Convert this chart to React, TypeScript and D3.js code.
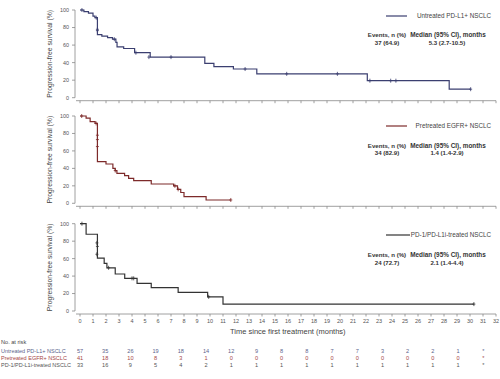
import React from "react";
import * as d3 from "d3";

// ---------- DATA ----------
const seriesNames = ["Untreated PD-L1+ NSCLC", "Pretreated EGFR+ NSCLC", "PD-1/PD-L1i-treated NSCLC"];
const eventsText = ["37 (64.9)", "34 (82.9)", "24 (72.7)"];
const medianText = ["5.3 (2.7-10.5)", "1.4 (1.4-2.9)", "2.1 (1.4-4.4)"];

// step points: [time (months), survival % after the step]
const untreatedSteps: [number, number][] = [
  [0, 100], [0.3, 98.2], [0.65, 96.5], [1.0, 93], [1.15, 91.2], [1.34, 72],
  [1.68, 70.2], [2.12, 68.4], [2.5, 66.7], [2.76, 63], [2.85, 57.9], [3.36, 56.1],
  [4.2, 51.3], [5.4, 46.3], [9.6, 39.2], [10.3, 35.4], [11.8, 32.7], [13.6, 27.2],
  [22.1, 19.4], [28.4, 9.7], [30.05, 9.7],
];
const untreatedCensor: [number, number][] = [
  [0.15, 100], [1.25, 91.2], [1.34, 78], [1.34, 76.5], [2.64, 66.7], [4.3, 51.3],
  [5.3, 46.3], [7.0, 46.3], [12.7, 32.7], [15.9, 27.2], [19.8, 27.2], [22.3, 19.4],
  [23.9, 19.4], [24.3, 19.4], [30.05, 9.7],
];

const pretreatedSteps: [number, number][] = [
  [0, 100], [0.47, 97.6], [0.78, 93.5], [1.16, 91.5], [1.34, 47.7], [2.0, 45],
  [2.53, 40], [2.71, 37.5], [2.84, 34.3], [3.43, 31.6], [3.74, 28.6], [4.13, 25.9],
  [5.48, 22.1], [7.2, 20], [7.5, 16], [7.75, 12.4], [8.0, 7.6], [9.7, 3.8], [11.6, 3.8],
];
const pretreatedCensor: [number, number][] = [
  [0.13, 100], [1.24, 91.5], [1.34, 78], [1.34, 73], [1.34, 65], [2.71, 37.5],
  [7.3, 20], [7.55, 16], [11.6, 3.8],
];

const pd1Steps: [number, number][] = [
  [0, 100], [0.47, 87.9], [1.34, 60.6], [1.86, 54.5], [2.07, 49.5], [2.71, 42.4],
  [3.44, 37.4], [4.39, 31.7], [5.48, 26.7], [7.55, 21.4], [9.82, 16.2], [11.0, 7.9],
  [30.3, 7.9],
];
const pd1Censor: [number, number][] = [
  [0.15, 100], [1.3, 78], [1.34, 74], [1.3, 65], [2.2, 49.5], [4.0, 37.4],
  [4.13, 37.4], [9.9, 16.2], [30.3, 7.9],
];

const yTicks = [0, 20, 40, 60, 80, 100];
const xTicks = d3.range(0, 33);
const riskLabels = ["Untreated PD-L1+ NSCLC", "Pretreated EGFR+ NSCLC", "PD-1/PD-L1i-treated NSCLC"];
const riskUntreated = ["57", "35", "26", "19", "18", "14", "12", "9", "8", "8", "7", "7", "3", "2", "2", "1", "*"];
const riskPretreated = ["41", "18", "10", "8", "3", "1", "0", "0", "0", "0", "0", "0", "0", "0", "0", "0", "*"];
const riskPd1 = ["33", "16", "9", "5", "4", "2", "1", "1", "1", "1", "1", "1", "1", "1", "1", "1", "*"];

// ---------- STYLE ----------
const colors = ["#3b3f70", "#7d2a2a", "#333333"];
const riskColors = ["#5b5f8c", "#a54646", "#555555"];
const FONT = "'Liberation Sans', Arial, sans-serif";

export default function App() {
  const W = 500, H = 379;
  const x = d3.scaleLinear().domain([0, 32]).range([80, 496]);
  const panels = [
    { top: 10, bottom: 97.7, steps: untreatedSteps, censor: untreatedCensor },
    { top: 116, bottom: 203.3, steps: pretreatedSteps, censor: pretreatedCensor },
    { top: 223.7, bottom: 311, steps: pd1Steps, censor: pd1Censor },
  ];
  const legendY = [16, 126, 235];
  const statsY = [35, 145.5, 255];
  const riskX = d3.scalePoint<number>().domain(d3.range(17)).range([80, 483.3]);
  const riskRows = [riskUntreated, riskPretreated, riskPd1];
  const riskRowY = [351.5, 358.2, 365];

  return (
    <svg width={W} height={H} style={{ position: "absolute", left: 0, top: 0, fontFamily: FONT }}>
      <rect width={W} height={H} fill="#fff" />
      {panels.map((p, i) => {
        const y = d3.scaleLinear().domain([0, 100]).range([p.bottom, p.top]);
        const line = d3.line<[number, number]>().x(d => x(d[0])).y(d => y(d[1])).curve(d3.curveStepAfter);
        const axisY = p.bottom + 3;
        const midY = (p.top + p.bottom) / 2;
        return (
          <g key={i}>
            {/* y axis */}
            <line x1={75} x2={75} y1={y(100)} y2={y(0)} stroke="#888" strokeWidth={0.8} />
            {yTicks.map(t => (
              <g key={t}>
                <line x1={72} x2={75} y1={y(t)} y2={y(t)} stroke="#888" strokeWidth={0.8} />
                <text x={69} y={y(t)} dy="0.35em" textAnchor="end" fontSize={5.4} fill="#555">{t}</text>
              </g>
            ))}
            <text transform={`translate(50,${midY}) rotate(-90)`} textAnchor="middle" dy="0.35em" fontSize={6.8} fill="#444">
              Progression-free survival (%)
            </text>
            {/* x axis */}
            <line x1={76} x2={x(32)} y1={axisY} y2={axisY} stroke="#888" strokeWidth={0.8} />
            {xTicks.map(t => (
              <line key={t} x1={x(t)} x2={x(t)} y1={axisY} y2={axisY + 2.5} stroke="#888" strokeWidth={0.8} />
            ))}
            {/* curve */}
            <path d={line(p.steps) || ""} fill="none" stroke={colors[i]} strokeWidth={1.2} />
            {p.censor.map((c, k) => (
              <g key={k} stroke={colors[i]} strokeWidth={0.8}>
                <line x1={x(c[0])} x2={x(c[0])} y1={y(c[1]) - 2} y2={y(c[1]) + 2} />
                <line x1={x(c[0]) - 1.5} x2={x(c[0]) + 1.5} y1={y(c[1])} y2={y(c[1])} />
              </g>
            ))}
            {/* legend */}
            <line x1={386} x2={i === 2 ? 410 : 407} y1={legendY[i]} y2={legendY[i]} stroke={colors[i]} strokeWidth={1.2} />
            <text x={491} y={legendY[i]} dy="0.35em" textAnchor="end" fontSize={6.3} fill="#444">{seriesNames[i]}</text>
            <text x={387} y={statsY[i]} dy="0.35em" textAnchor="middle" fontSize={6.1} fontWeight="bold" fill="#333">Events, n (%)</text>
            <text x={448} y={statsY[i]} dy="0.35em" textAnchor="middle" fontSize={6.4} fontWeight="bold" fill="#333">Median (95% CI), months</text>
            <text x={387} y={statsY[i] + 7.5} dy="0.35em" textAnchor="middle" fontSize={6.1} fontWeight="bold" fill="#333">{eventsText[i]}</text>
            <text x={447} y={statsY[i] + 7.5} dy="0.35em" textAnchor="middle" fontSize={6.1} fontWeight="bold" fill="#333">{medianText[i]}</text>
          </g>
        );
      })}
      {/* x tick labels (bottom panel only) */}
      {xTicks.map(t => (
        <text key={t} x={x(t)} y={321} dy="0.35em" textAnchor="middle" fontSize={5.5} fill="#555">{t}</text>
      ))}
      <text x={230} y={331} dy="0.35em" fontSize={7.5} fill="#444">Time since first treatment (months)</text>
      {/* number at risk */}
      <text x={1} y={342.5} dy="0.35em" fontSize={5.6} fill="#444">No. at risk</text>
      {riskRows.map((row, r) => (
        <g key={r}>
          <text x={1} y={riskRowY[r]} dy="0.35em" fontSize={5.5} fill={riskColors[r]}>{riskLabels[r]}</text>
          {row.map((v, k) => (
            <text key={k} x={riskX(k)} y={riskRowY[r]} dy="0.35em" textAnchor="middle" fontSize={5.6} fill={riskColors[r]}>{v}</text>
          ))}
        </g>
      ))}
    </svg>
  );
}
